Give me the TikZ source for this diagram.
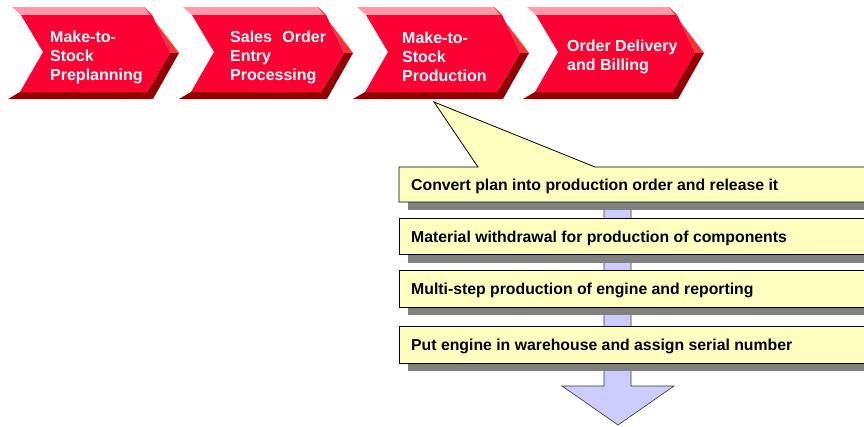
\documentclass[tikz,border=0pt]{standalone}
\usepackage{fontspec}
\setmainfont{Liberation Sans}
\definecolor{chevface}{RGB}{255,0,51}
\definecolor{chevpink}{RGB}{255,153,170}
\definecolor{chevlight}{RGB}{255,51,51}
\definecolor{chevdark}{RGB}{145,0,0}
\definecolor{boxyellow}{RGB}{255,255,192}
\definecolor{shadowgray}{RGB}{128,128,128}
\definecolor{flowlav}{RGB}{204,204,255}
\newcommand{\chevshape}[2]{%
  \fill[chevpink] ({#1+12},7) -- ({#1+144+#2},7) -- ({#1+152+#2},15) -- ({#1+21},15) -- cycle;
  \fill[chevlight] ({#1+144+#2},7) -- ({#1+179+#2},53) -- ({#1+170+#2},53) -- ({#1+152+#2},15) -- cycle;
  \fill[chevdark] ({#1+179+#2},53) -- ({#1+153+#2},99) -- ({#1+147+#2},92) -- ({#1+170+#2},53) -- cycle;
  \fill[chevdark] ({#1+8},99) -- ({#1+153+#2},99) -- ({#1+147+#2},92) -- ({#1+20},92) -- cycle;
  \fill[chevface] ({#1+21},15) -- ({#1+152+#2},15) -- ({#1+170+#2},53) -- ({#1+147+#2},92) -- ({#1+20},92) -- ({#1+43},52) -- cycle;
}
\tikzset{
  chevtext/.style={text=white, font=\bfseries\fontsize{16}{19}\selectfont, align=left, anchor=west, inner sep=0pt},
  boxtext/.style={text=black, font=\bfseries\fontsize{15.8}{19}\selectfont, anchor=west, inner sep=0pt},
  ybox/.style={fill=boxyellow, draw=black, line width=0.8pt},
  shadowbox/.style={fill=shadowgray},
  flow/.style={fill=flowlav, draw=black!80, line width=0.6pt}
}
\begin{document}
\begin{tikzpicture}[x=1pt,y=-1pt]
\useasboundingbox (0,0) rectangle (864,426);
\clip (0,0) rectangle (864,426);
\fill[white] (0,0) rectangle (864,426);
% chevrons
\chevshape{0}{0}
\chevshape{171}{3}
\chevshape{345}{5}
\chevshape{515}{10}
\node[chevtext] (c1) at (50,57) {Make-to-\\Stock\\Preplanning};
\node[chevtext] (c2) at (230,57) {Sales\hspace{6pt} Order\\Entry\\Processing};
\node[chevtext] (c3) at (402,57) {Make-to-\\Stock\\Production};
\node[chevtext] (c4) at (567,57) {Order Delivery\\and Billing};
% flow arrow
\coordinate (tip) at (618,425);
\draw[flow] (604,200) -- (631,200) -- (631,386) -- (674,386) -- (tip) -- (562,386) -- (604,386) -- cycle;
% shadows
\fill[shadowbox] (408,175) rectangle (880,210);
\fill[shadowbox] (408,226) rectangle (880,263);
\fill[shadowbox] (408,278) rectangle (880,315);
\fill[shadowbox] (408,334) rectangle (880,371);
% callout box
\coordinate (ptr) at (434,102);
\draw[ybox] (399,167) -- (478,167) -- (ptr) -- (595,167) -- (880,167) -- (880,202) -- (399,202) -- cycle;
\draw[ybox] (399,218) rectangle (880,254);
\draw[ybox] (399,270) rectangle (880,307);
\draw[ybox] (399,326) rectangle (880,363);
\node[boxtext] (b1) at (411,186) {Convert plan into production order and release it};
\node[boxtext] (b2) at (411,238) {Material withdrawal for production of components};
\node[boxtext] (b3) at (411,290) {Multi-step production of engine and reporting};
\node[boxtext] (b4) at (411,346) {Put engine in warehouse and assign serial number};
\end{tikzpicture}
\end{document}
